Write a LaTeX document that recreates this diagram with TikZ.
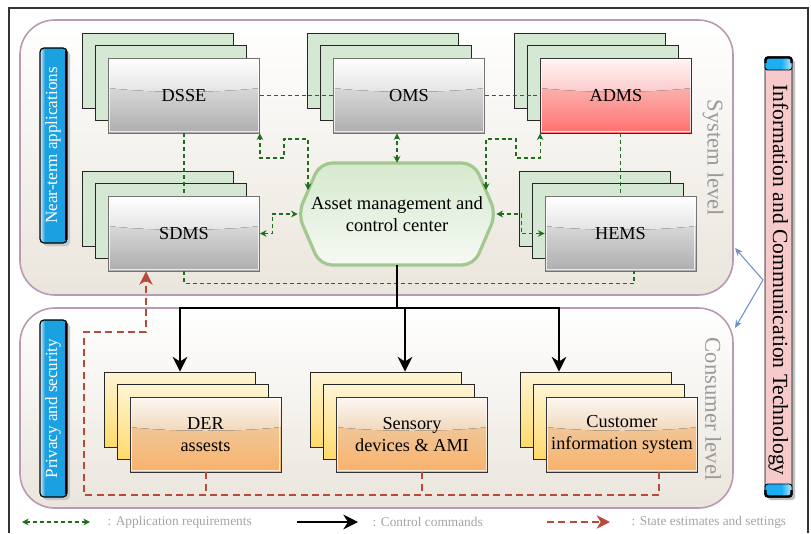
\documentclass[tikz,border=0pt]{standalone}
\usepackage{fontspec}
\setmainfont{Liberation Serif}
\usetikzlibrary{arrows.meta,calc}

\definecolor{levelline}{HTML}{B89AB2}
\definecolor{levelbot}{HTML}{EAE5DC}
\definecolor{backgreen}{HTML}{D5E8D4}
\definecolor{appgreen}{HTML}{1E6E1E}
\definecolor{statered}{HTML}{B84A3C}
\definecolor{hexline}{HTML}{A3C88E}
\definecolor{hextop}{HTML}{D6E9CE}
\definecolor{hexbot}{HTML}{F6F9F4}
\definecolor{ictpink}{HTML}{F6CACA}
\definecolor{barblue}{HTML}{1BA1E2}
\definecolor{barlight}{HTML}{D8ECF6}
\definecolor{capblue}{HTML}{1AAEF2}
\definecolor{caplight}{HTML}{BDE9FF}
\definecolor{linkblue}{HTML}{6F91C9}
\definecolor{labelgray}{HTML}{9A9A9A}
\definecolor{legendgray}{HTML}{A4A4A4}
\definecolor{yellowtop}{HTML}{FFF5D6}
\definecolor{yellowbot}{HTML}{FFDA6A}
\definecolor{redbot}{HTML}{FF7171}
\definecolor{redmid}{HTML}{FBB0AD}
\definecolor{redhi}{HTML}{FCC9C9}
\definecolor{redtop}{HTML}{FFF5F5}
\definecolor{orbot}{HTML}{F9B26B}
\definecolor{ormid}{HTML}{F0C698}
\definecolor{orhi}{HTML}{F1D6BA}
\definecolor{ortop}{HTML}{FCF8F3}

% lower halves of the front boxes (bottom to top)
\pgfdeclareverticalshading{glossgraybase}{100bp}{color(0bp)=(gray!64); color(25bp)=(gray!64); color(55bp)=(gray!31); color(75bp)=(gray!30); color(100bp)=(gray!30)}
\pgfdeclareverticalshading{glossredbase}{100bp}{color(0bp)=(redbot); color(25bp)=(redbot); color(55bp)=(redmid); color(75bp)=(redmid); color(100bp)=(redmid)}
\pgfdeclareverticalshading{glossorangebase}{100bp}{color(0bp)=(orbot); color(25bp)=(orbot); color(55bp)=(ormid); color(75bp)=(ormid); color(100bp)=(ormid)}
% side bars
\pgfdeclarehorizontalshading{barshade}{100bp}{color(0bp)=(barlight); color(25bp)=(barlight); color(34bp)=(barblue); color(75bp)=(barblue); color(100bp)=(barblue)}
\pgfdeclarehorizontalshading{capshade}{100bp}{color(0bp)=(capblue); color(25bp)=(capblue); color(55bp)=(capblue); color(75bp)=(caplight); color(100bp)=(caplight)}

\newcommand{\lblfont}{\fontsize{13.7}{16.3}\selectfont}

% a stack of three boxes: name, centre x, centre y, back style, front style, text
\newcommand{\drawstack}[6]{%
  \node[#4] (#1-b2) at ({#2-26},{#3-25}) {};
  \node[#4] (#1-b1) at ({#2-13},{#3-12.5}) {};
  \node[#5] (#1) at (#2,#3) {#6};
}

\begin{document}
\begin{tikzpicture}[x=0.75pt,y=-0.75pt,
  levelbox/.style={draw=levelline, line width=1.2pt, rounded corners=26pt, top color=white, bottom color=levelbot},
  boxsize/.style={minimum width=113.25pt, minimum height=56.25pt, inner sep=0pt},
  backbox/.style={boxsize, draw=black!85, line width=0.7pt, fill=backgreen},
  backyellow/.style={boxsize, draw=black!85, line width=0.7pt, top color=yellowtop, bottom color=yellowbot},
  gloss/.style n args={3}{shading=#1, path picture={
    \coordinate (gNW) at (path picture bounding box.north west);
    \coordinate (gNE) at (path picture bounding box.north east);
    \coordinate (gSW) at (path picture bounding box.south west);
    \coordinate (gSE) at (path picture bounding box.south east);
    \coordinate (gL) at ($(gNW)!0.4!(gSW)$);
    \coordinate (gR) at ($(gNE)!0.4!(gSE)$);
    \fill[top color=#2, bottom color=#3] (gNW) -- (gNE) -- (gR)
      .. controls ($(gR)+(-45,5)$) and ($(gL)+(45,5)$) .. (gL) -- cycle;
    \draw[white, opacity=0.75, line width=0.9pt] ([shift={(1.3,1.3)}]gNW) rectangle ([shift={(-1.3,-1.3)}]gSE);
  }},
  frontbase/.style={boxsize, align=center, font=\lblfont, line width=0.6pt},
  frontgray/.style={frontbase, gloss={glossgraybase}{white}{gray!22}, draw=black!55},
  frontred/.style={frontbase, gloss={glossredbase}{redtop}{redhi}, draw=black!80},
  frontorange/.style={frontbase, gloss={glossorangebase}{ortop}{orhi}, draw=black!80},
  appline/.style={draw=appgreen, line width=0.9pt, dash pattern=on 3pt off 2.2pt},
  apparrow/.style={appline, {Stealth[length=5pt,width=5pt]}-{Stealth[length=5pt,width=5pt]}},
  ctrlline/.style={draw=black, line width=1.6pt},
  ctrlarrow/.style={ctrlline, -{Stealth[length=11pt,width=11pt,inset=3.5pt]}},
  stateline/.style={draw=statered, line width=1.5pt, dash pattern=on 5.2pt off 3.3pt},
  statearrow/.style={stateline, -{Stealth[length=10pt,width=10pt,inset=3pt]}},
  ictarrow/.style={draw=linkblue, line width=0.8pt, -{Stealth[length=6pt,width=5pt]}},
  leveltext/.style={text=labelgray, font=\fontsize{17}{20}\selectfont},
  bartext/.style={text=white, font=\fontsize{12.8}{15}\selectfont},
  legendtext/.style={text=legendgray, font=\fontsize{10}{12}\selectfont, anchor=west},
]
\useasboundingbox (0,0) rectangle (811,533);

% outer frame
\draw[black!80, line width=0.8pt] (9,533) -- (9,8) -- (808,8) -- (808,533);

% the two levels
\draw[levelbox] (20,20) rectangle (733,295);
\draw[levelbox] (20,308) rectangle (733,508);
\node[leveltext, rotate=-90] (syslabel) at (713,158) {System level};
\node[leveltext, rotate=-90] (conlabel) at (713,409) {Consumer level};

% left side bars
\fill[gray!45, rounded corners=3pt] (43,51) rectangle (70,246);
\draw[black, line width=0.9pt, rounded corners=3pt, shading=barshade] (40,48) rectangle (67,243);
\draw[black, line width=2pt] (66,51) -- (66,240);
\node[bartext, rotate=90] (nearterm) at (53,145.5) {Near-term applications};
\fill[gray!45, rounded corners=3pt] (43,323) rectangle (70,500);
\draw[black, line width=0.9pt, rounded corners=3pt, shading=barshade] (40,320) rectangle (67,497);
\draw[black, line width=2pt] (66,323) -- (66,494);
\node[bartext, rotate=90] (privacy) at (53,408.5) {Privacy and security};

% ICT bar
\fill[gray!50, rounded corners=2pt] (768,60) rectangle (795,500);
\draw[black, line width=0.7pt, fill=ictpink, rounded corners=2pt] (765,57) rectangle (792,497);
\draw[black, line width=0.7pt, shading=capshade, rounded corners=2pt] (765,57) rectangle (792,70);
\draw[black, line width=1.8pt, rounded corners=2pt] (765.5,63) -- (765.5,57.5) -- (791.5,57.5) -- (791.5,63);
\draw[black, line width=0.7pt, shading=capshade, rounded corners=2pt] (765,484) rectangle (792,497);
\draw[black, line width=1.8pt, rounded corners=2pt] (765.5,490) -- (765.5,496.5) -- (791.5,496.5) -- (791.5,490);
\node[rotate=-90, font=\fontsize{16.2}{19}\selectfont] (ict) at (778.5,280) {Information and Communication Technology};
\coordinate (ictlink) at (763,280);
\coordinate (syslink) at (735,248);
\coordinate (conlink) at (735,328);
\draw[ictarrow] (ictlink) -- (syslink);
\draw[ictarrow] (ictlink) -- (conlink);

% system level applications
\drawstack{dsse}{184}{95.5}{backbox}{frontgray}{DSSE}
\drawstack{oms}{409}{95.5}{backbox}{frontgray}{OMS}
\drawstack{adms}{616}{95.5}{backbox}{frontred}{ADMS}
\drawstack{sdms}{184}{233.5}{backbox}{frontgray}{SDMS}
\drawstack{hems}{620.5}{233.5}{backbox}{frontgray}{HEMS}

% consumer level assets
\drawstack{der}{205.5}{434.5}{backyellow}{frontorange}{DER\\assests}
\drawstack{sens}{412}{434.5}{backyellow}{frontorange}{Sensory\\devices \& AMI}
\drawstack{cust}{622}{434.5}{backyellow}{frontorange}{Customer\\information system}

% asset management and control center
\draw[draw=hexline, line width=2.4pt, rounded corners=9pt, top color=hextop, bottom color=hexbot]
  (298,214) -- (320,163) -- (474,163) -- (496,214) -- (474,265) -- (320,265) -- cycle;
\node[minimum width=148.5pt, minimum height=76.5pt, inner sep=0pt, align=center, font=\fontsize{13.9}{16.3}\selectfont] (hex) at (397,214) {Asset management and\\control center};
\coordinate (hexNW) at (308,190);
\coordinate (hexNE) at (486,190);

% application requirements
\draw[appline] (dsse.east) -- (oms.west);
\draw[appline] (oms.east) -- (adms.west);
\draw[appline] (dsse.south) -- (sdms.north);
\draw[appline] (hems.north |- adms.south) -- (hems.north);
\draw[appline] (sdms.south) -- ++(0,12) -| ($(hems.south)+(13.5,0)$);
\draw[apparrow] (hexNW) -- ++(0,-51) -- ++(-24,0) -- ++(0,19) -| (dsse.south east);
\draw[apparrow] (hexNE) -- ++(0,-51) -- ++(30,0) -- ++(0,19) -| (adms.south west);
\draw[apparrow] (hex.north) -- (hex.north |- oms.south);
\draw[apparrow] (sdms.east) -- ++(12.5,0) |- (hex.west);
\draw[apparrow] (hex.east) -- ++(25,0) |- (hems.west);

% control commands
\coordinate (bus) at (397,308);
\coordinate (busL) at (180,308);
\coordinate (busM) at (405,308);
\coordinate (busR) at (559,308);
\draw[ctrlline] (hex.south) -- (bus);
\draw[ctrlline, line cap=rect] (busL) -- (busR);
\draw[ctrlarrow] (busL) -- (busL |- der-b2.north);
\draw[ctrlarrow] (busM) -- (busM |- sens-b2.north);
\draw[ctrlarrow] (busR) -- (busR |- cust-b2.north);

% state estimates and settings
\coordinate (stbus) at (84,495);
\coordinate (custdrop) at ($(cust.south)+(37,0)$);
\coordinate (sensdrop) at ($(sens.south)+(10,0)$);
\coordinate (sdmsin) at ($(sdms.south)+(-38,0)$);
\draw[statearrow] (custdrop) |- (stbus) -- (84,332) -| (sdmsin);
\draw[stateline] (der.south) -- (der.south |- stbus);
\draw[stateline] (sensdrop) -- (sensdrop |- stbus);

% legend
\coordinate (lgA1) at (22,522);
\coordinate (lgA2) at (90,522);
\draw[apparrow] (lgA1) -- (lgA2);
\node[legendtext] (lgAt) at (103,522) {: Application requirements};
\coordinate (lgB1) at (297,522);
\coordinate (lgB2) at (358,522);
\draw[ctrlarrow] (lgB1) -- (lgB2);
\node[legendtext] (lgBt) at (368,522) {: Control commands};
\coordinate (lgC1) at (547,522);
\coordinate (lgC2) at (610,522);
\draw[statearrow] (lgC1) -- (lgC2);
\node[legendtext] (lgCt) at (627,522) {: State estimates and settings};
\end{tikzpicture}
\end{document}
